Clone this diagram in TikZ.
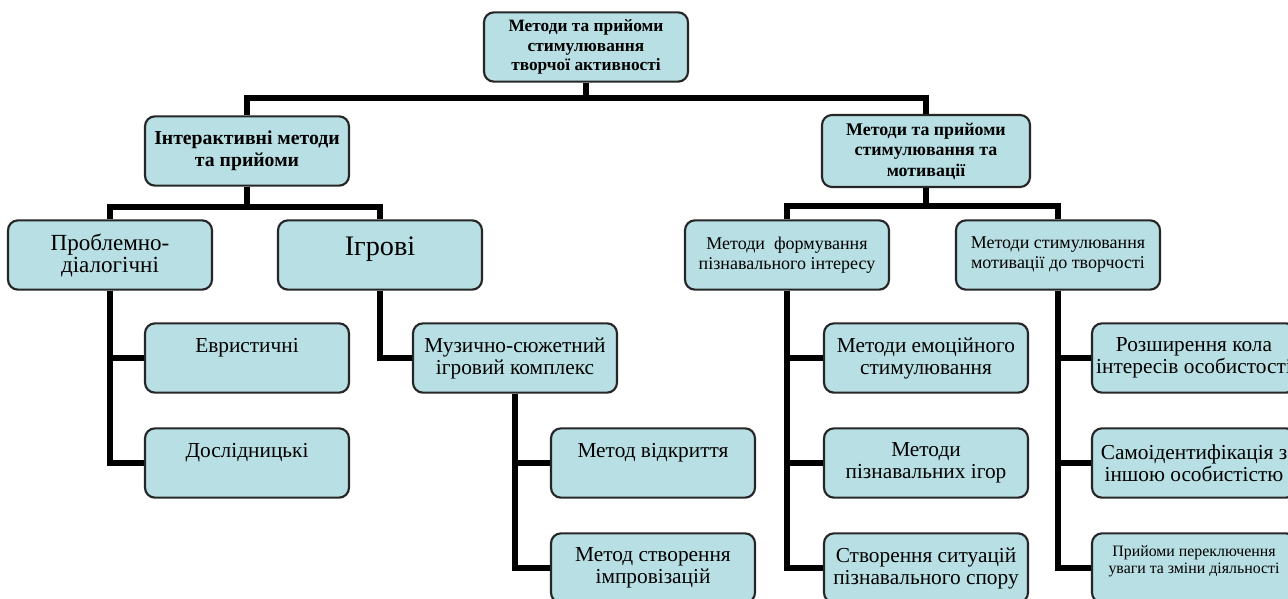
\documentclass[tikz,border=0pt]{standalone}
\usepackage{fontspec}
\setmainfont{Liberation Serif}
\usepackage{tikz}
\definecolor{boxfill}{RGB}{184,223,227}
\tikzstyle{box}=[draw=black!85,line width=1.6pt,fill=boxfill,rounded corners=7.5pt,minimum width=153pt,minimum height=52pt,align=center,inner sep=2pt]
\tikzstyle{link}=[line width=4.8pt]

\begin{document}
\begin{tikzpicture}[x=0.75pt,y=-0.75pt]
\useasboundingbox (0,0) rectangle (1288,599);
\clip (0,0) rectangle (1288,599);
\node[box,font=\fontsize{13}{14.8}\selectfont\bfseries] (Top) at (586,47) {Методи та прийоми\\стимулювання\\творчої активності};
\node[box,font=\fontsize{14.8}{16.5}\selectfont\bfseries] (Inter) at (247,151) {Інтерактивні методи\\та прийоми};
\node[box,minimum width=156pt,minimum height=54pt,font=\fontsize{13.4}{15.4}\selectfont\bfseries] (Motiv) at (926,151) {Методи та прийоми\\стимулювання та\\мотивації};
\node[box,font=\fontsize{17.3}{16.5}\selectfont] (Probl) at (110,255) {Проблемно-\\діалогічні};
\node[box,font=\fontsize{21.2}{20}\selectfont] (Igrov) at (380,255) {Ігрові\\[-6pt]~};
\node[box,font=\fontsize{13.5}{15}\selectfont] (Form) at (787,255) {Методи \ формування\\пізнавального інтересу};
\node[box,font=\fontsize{13.5}{15}\selectfont] (Stym) at (1058,255) {Методи стимулювання\\мотивації до творчості};
\node[box,font=\fontsize{16}{16.5}\selectfont] (Evr) at (247,358) {Евристичні\\[2pt]~};
\node[box,font=\fontsize{16}{16.5}\selectfont] (Dosl) at (247,463) {Дослідницькі\\[2pt]~};
\node[box,font=\fontsize{16}{16.5}\selectfont] (Muz) at (515,358) {Музично-сюжетний\\ігровий комплекс};
\node[box,font=\fontsize{16}{16.5}\selectfont] (Vidkr) at (653,463) {Метод відкриття\\[2pt]~};
\node[box,font=\fontsize{16}{16.5}\selectfont] (Impr) at (653,568) {Метод створення\\імпровізацій};
\node[box,font=\fontsize{16}{16.5}\selectfont] (Emoc) at (926,358) {Методи емоційного\\стимулювання};
\node[box,font=\fontsize{16}{16.5}\selectfont] (Igor) at (926,463) {Методи\\пізнавальних ігор};
\node[box,font=\fontsize{16}{16.5}\selectfont] (Spor) at (926,568) {Створення ситуацій\\пізнавального спору};
\node[box,font=\fontsize{16}{16.5}\selectfont] (Rozsh) at (1194,358) {Розширення кола\\інтересів особистості};
\node[box,font=\fontsize{16}{16.5}\selectfont] (Samo) at (1194,463) {Самоідентифікація з\\іншою особистістю};
\node[box,font=\fontsize{11.9}{13}\selectfont] (Pryi) at (1194,568) {Прийоми переключення\\уваги та зміни діяльності\\~};
\draw[link] (Top.south) -- +(0,15) -| (Inter.north);
\draw[link] (Top.south) -- +(0,15) -| (Motiv.north);
\draw[link] (Inter.south) -- +(0,20) -| (Probl.north);
\draw[link] (Inter.south) -- +(0,20) -| (Igrov.north);
\draw[link] (Motiv.south) -- +(0,18) -| (Form.north);
\draw[link] (Motiv.south) -- +(0,18) -| (Stym.north);
\draw[link] (Probl.south) |- (Evr.west);
\draw[link] (Probl.south) |- (Dosl.west);
\draw[link] (Igrov.south) |- (Muz.west);
\draw[link] (Muz.south) |- (Vidkr.west);
\draw[link] (Muz.south) |- (Impr.west);
\draw[link] (Form.south) |- (Emoc.west);
\draw[link] (Form.south) |- (Igor.west);
\draw[link] (Form.south) |- (Spor.west);
\draw[link] (Stym.south) |- (Rozsh.west);
\draw[link] (Stym.south) |- (Samo.west);
\draw[link] (Stym.south) |- (Pryi.west);
\end{tikzpicture}
\end{document}
